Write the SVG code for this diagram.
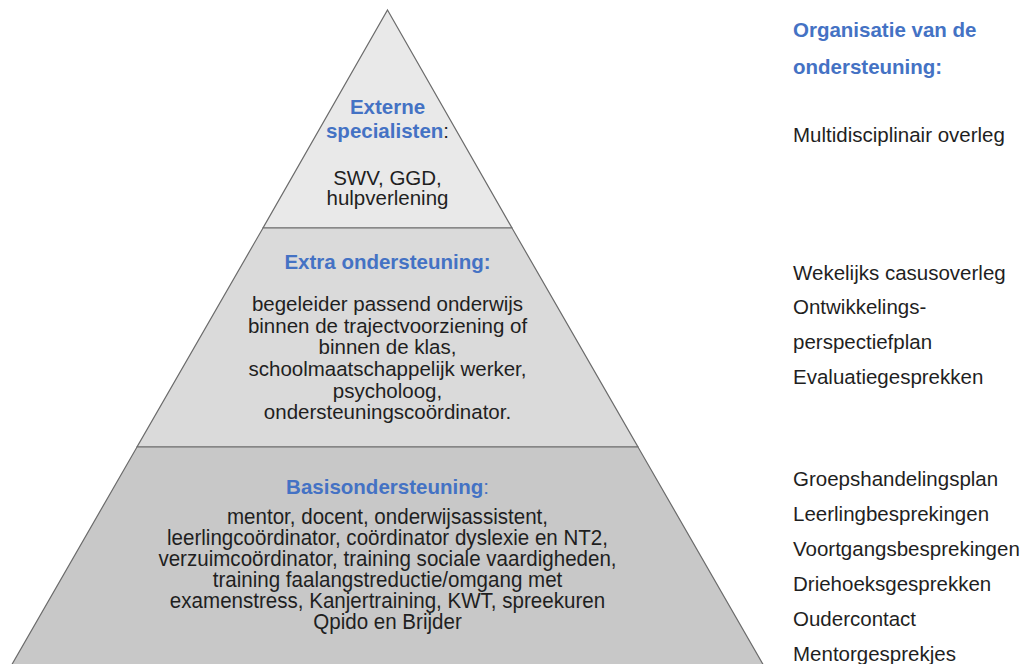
<svg xmlns="http://www.w3.org/2000/svg" width="1027" height="664" viewBox="0 0 1027 664">
<style>
  .t { font-family: "Liberation Sans", Arial, sans-serif; font-size: 20.5px; fill: #1f1f1f; }
  .h { font-family: "Liberation Sans", Arial, sans-serif; font-size: 20.5px; font-weight: bold; fill: #4472C4; }
  .c { text-anchor: middle; }
  .layer { stroke: #6b6b6b; stroke-width: 1.2; }
  .b { font-family: "Liberation Sans", Arial, sans-serif; font-size: 22px; fill: #1f1f1f; text-anchor: middle; }
</style>
<rect width="1027" height="664" fill="#ffffff"/>

<g id="layer-top">
  <polygon class="layer" fill="#e9e9e9" points="387.5,10 512,228 263,228"/>
  <text class="h c" x="387.5" y="114">Externe</text>
  <text class="c" x="387.5" y="138"><tspan class="h">specialisten</tspan><tspan class="t">:</tspan></text>
  <text class="t c" x="387.5" y="185">SWV, GGD,</text>
  <text class="t c" x="387.5" y="205">hulpverlening</text>
</g>

<g id="layer-middle">
  <polygon class="layer" fill="#dadada" points="263,228 512,228 638,447 137,447"/>
  <text class="h c" x="387.5" y="269">Extra ondersteuning:</text>
  <text class="t c" x="387.5" y="311">begeleider passend onderwijs</text>
  <text class="t c" x="387.5" y="332.5">binnen de trajectvoorziening of</text>
  <text class="t c" x="387.5" y="354">binnen de klas,</text>
  <text class="t c" x="387.5" y="376">schoolmaatschappelijk werker,</text>
  <text class="t c" x="387.5" y="397.5">psycholoog,</text>
  <text class="t c" x="387.5" y="419">ondersteuningscoördinator.</text>
</g>

<g id="layer-bottom">
  <polygon class="layer" fill="#c8c8c8" points="137,447 638,447 772,680 3,680"/>
  <text class="c" x="387.5" y="494"><tspan class="h">Basisondersteuning</tspan><tspan class="t" style="fill:#4472C4">:</tspan></text>
  <g transform="translate(387.5,0) scale(0.935,1)">
    <text class="b" x="0" y="524.5">mentor, docent, onderwijsassistent,</text>
    <text class="b" x="0" y="545.5">leerlingcoördinator, coördinator dyslexie en NT2,</text>
    <text class="b" x="0" y="566.5">verzuimcoördinator, training sociale vaardigheden,</text>
    <text class="b" x="0" y="587.5">training faalangstreductie/omgang met</text>
    <text class="b" x="0" y="608.5">examenstress, Kanjertraining, KWT, spreekuren</text>
    <text class="b" x="0" y="629.5">Qpido en Brijder</text>
  </g>
</g>

<g id="organisatie">
  <text class="h" x="793" y="37">Organisatie van de</text>
  <text class="h" x="793" y="74">ondersteuning:</text>
  <text class="t" x="793" y="141.5">Multidisciplinair overleg</text>
  <text class="t" x="793" y="280">Wekelijks casusoverleg</text>
  <text class="t" x="793" y="313.5">Ontwikkelings-</text>
  <text class="t" x="793" y="348.5">perspectiefplan</text>
  <text class="t" x="793" y="383.5">Evaluatiegesprekken</text>
  <text class="t" x="793" y="486">Groepshandelingsplan</text>
  <text class="t" x="793" y="521">Leerlingbesprekingen</text>
  <text class="t" x="793" y="556">Voortgangsbesprekingen</text>
  <text class="t" x="793" y="591">Driehoeksgesprekken</text>
  <text class="t" x="793" y="625.5">Oudercontact</text>
  <text class="t" x="793" y="660.5">Mentorgesprekjes</text>
</g>
<g id="connectors"/>
</svg>
